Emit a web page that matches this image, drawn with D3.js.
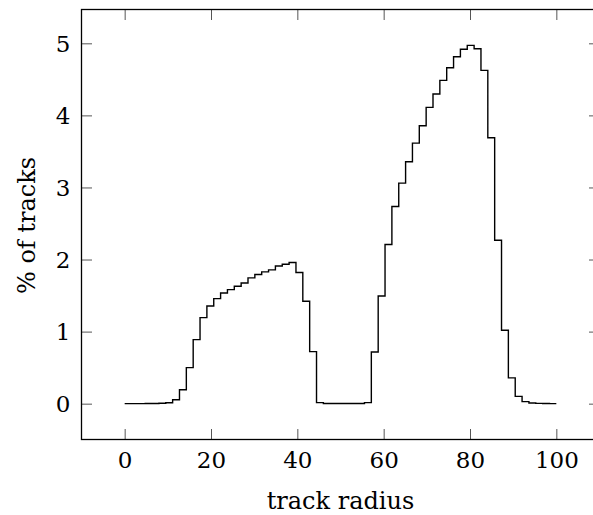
<!DOCTYPE html>
<html>
<head>
<meta charset="utf-8">
<script src="https://cdn.jsdelivr.net/npm/d3@7"></script>
<style>
  html, body { margin: 0; padding: 0; background: #fff; }
  svg { display: block; }
  text { font-family: "DejaVu Serif", "Liberation Serif", serif; fill: #000; }
</style>
</head>
<body>
<div id="chart"></div>
<script>
// ---- data ----
const binStart = 0;           // first bin edge (track radius)
const binEnd = 100;           // last bin edge
const binValues = [
  0.0, 0.0, 0.0, 0.002, 0.003, 0.005, 0.012, 0.055, 0.194, 0.50,
  0.889, 1.194, 1.356, 1.458, 1.536, 1.583, 1.629, 1.675, 1.745, 1.792,
  1.828, 1.856, 1.911, 1.935, 1.958, 1.819, 1.421, 0.722, 0.014, 0.002,
  0.002, 0.002, 0.002, 0.002, 0.002, 0.014, 0.717, 1.494, 2.208, 2.736,
  3.06, 3.356, 3.615, 3.856, 4.111, 4.296, 4.486, 4.661, 4.814, 4.917,
  4.972, 4.925, 4.625, 3.689, 2.268, 1.018, 0.358, 0.101, 0.028, 0.010,
  0.004, 0.002, 0.001
];
const xTicks = [0, 20, 40, 60, 80, 100];
const yTicks = [0, 1, 2, 3, 4, 5];
const xLabel = "track radius";
const yLabel = "% of tracks";

// ---- layout ----
const W = 593, H = 515;
const plot = { left: 81.5, right: 599.5, top: 9.5, bottom: 439.5 };

const nBins = binValues.length;
const binW = (binEnd - binStart) / nBins;
const pts = binValues.map((v, i) => ({ x: binStart + i * binW, y: v }));
pts.push({ x: binEnd, y: binValues[nBins - 1] });

const xPad = (binEnd - binStart) * 0.1;
const yMax = d3.max(binValues), yMin = 0;
const yPad = (yMax - yMin) * 0.1;

const x = d3.scaleLinear().domain([binStart - xPad, binEnd + xPad]).range([plot.left, plot.right]);
const y = d3.scaleLinear().domain([yMin - yPad, yMax + yPad]).range([plot.bottom, plot.top]);

const svg = d3.select("#chart").append("svg").attr("width", W).attr("height", H);

const tickLen = 10.5;
const tickColor = "#555";

// bottom axis (ticks inward)
const xb = svg.append("g").attr("transform", `translate(0,${plot.bottom})`)
  .call(d3.axisBottom(x).tickValues(xTicks).tickSize(-tickLen).tickFormat(d3.format("d")));
// top axis ticks
const xt = svg.append("g").attr("transform", `translate(0,${plot.top})`)
  .call(d3.axisTop(x).tickValues(xTicks).tickSize(-tickLen).tickFormat(""));
// left axis
const yl = svg.append("g").attr("transform", `translate(${plot.left},0)`)
  .call(d3.axisLeft(y).tickValues(yTicks).tickSize(-tickLen).tickFormat(d3.format("d")));
// right axis ticks
const yr = svg.append("g").attr("transform", `translate(${plot.right},0)`)
  .call(d3.axisRight(y).tickValues(yTicks).tickSize(-tickLen).tickFormat(""));

[xb, xt, yl, yr].forEach(g => {
  g.select(".domain").remove();
  g.selectAll(".tick line").attr("stroke", tickColor).attr("stroke-width", 1);
  g.selectAll(".tick text").attr("font-family", "DejaVu Serif").attr("font-size", 23).attr("fill", "#000");
});
xb.selectAll(".tick text").attr("dy", "0.71em").attr("y", 12);
yl.selectAll(".tick text").attr("x", -11).attr("dy", "0.36em");

// frame
svg.append("rect")
  .attr("x", plot.left).attr("y", plot.top)
  .attr("width", plot.right - plot.left).attr("height", plot.bottom - plot.top)
  .attr("fill", "none").attr("stroke", "#000").attr("stroke-width", 1.3);

// step line
const line = d3.line().x(d => x(d.x)).y(d => y(d.y)).curve(d3.curveStepAfter);
svg.append("path").datum(pts)
  .attr("d", line).attr("fill", "none").attr("stroke", "#000").attr("stroke-width", 1.4);

// labels
svg.append("text")
  .attr("x", x((binStart + binEnd) / 2)).attr("y", 509)
  .attr("text-anchor", "middle").attr("font-size", 24)
  .text(xLabel);
svg.append("text")
  .attr("transform", `translate(35,${y(2.5) + 2}) rotate(-90)`)
  .attr("text-anchor", "middle").attr("font-size", 24)
  .text(yLabel);
</script>
</body>
</html>
